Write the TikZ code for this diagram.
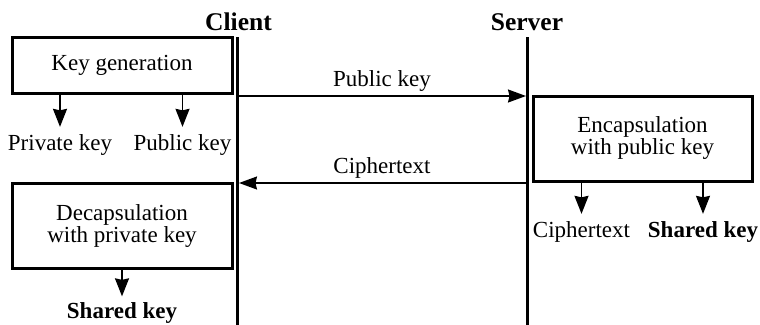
\documentclass[tikz,border=0pt]{standalone}
\usepackage{fontspec}
\setmainfont{Liberation Serif}
\usetikzlibrary{arrows.meta}

\tikzset{
  head/.style={font=\bfseries\fontsize{25.5}{26}\selectfont, anchor=base, inner sep=0pt},
  lbl/.style={font=\fontsize{23}{22}\selectfont, anchor=base, inner sep=0pt},
  boldlbl/.style={font=\bfseries\fontsize{23}{22}\selectfont, anchor=base, inner sep=0pt},
  procbox/.style={draw, line width=3pt, inner sep=0pt, align=center,
    font=\fontsize{23}{22}\selectfont},
  lifeline/.style={line width=3pt},
  msg/.style={line width=1.5pt, -{Stealth[length=18pt,width=13pt,inset=1.5pt]}},
  outarrow/.style={line width=1.6pt, -{Stealth[length=18pt,width=14pt,inset=1.5pt]}},
}

\begin{document}
\begin{tikzpicture}[x=1pt,y=-1pt]
  \useasboundingbox (0,0) rectangle (760,324);
  \clip (0,0) rectangle (760,324);

  % party headers and lifelines
  \node[head] (client) at (238.5,30) {Client};
  \node[head] (server) at (527,30) {Server};
  \coordinate (ctop) at (237.5,37);
  \coordinate (cbot) at (237.5,330);
  \coordinate (stop) at (527.5,37);
  \coordinate (sbot) at (527.5,330);
  \draw[lifeline] (ctop) -- (cbot);
  \draw[lifeline] (stop) -- (sbot);

  % client: key generation
  \node[procbox, minimum width=220pt, minimum height=56pt] (kg) at (122,65) {Key generation};
  \node[lbl] (privk) at (60,150) {Private key};
  \node[lbl] (pubk) at (182.5,150) {Public key};
  \draw[outarrow] (kg.south -| privk) -- ([yshift=7pt]privk.north);
  \draw[outarrow] (kg.south -| pubk) -- ([yshift=7pt]pubk.north);

  % public key sent to the server
  \coordinate (m1a) at (239,96);
  \coordinate (m1b) at (526,96);
  \draw[msg] (m1a) -- (m1b);
  \node[lbl] (m1lbl) at (382,86) {Public key};

  % server: encapsulation
  \node[procbox, minimum width=219pt, minimum height=85pt] (enc) at (642.5,138.5)
    {Encapsulation\\with public key};
  \node[lbl] (ct) at (581.5,237) {Ciphertext};
  \node[boldlbl] (sks) at (703,237) {Shared key};
  \draw[outarrow] (enc.south -| ct) -- ([yshift=7pt]ct.north);
  \draw[outarrow] (enc.south -| sks) -- ([yshift=7pt]sks.north);

  % ciphertext sent back to the client
  \coordinate (m2a) at (526,183);
  \coordinate (m2b) at (239,183);
  \draw[msg] (m2a) -- (m2b);
  \node[lbl] (m2lbl) at (382,173) {Ciphertext};

  % client: decapsulation
  \node[procbox, minimum width=220pt, minimum height=85pt] (dec) at (122,225.5)
    {Decapsulation\\with private key};
  \node[boldlbl] (skc) at (122,318.5) {Shared key};
  \draw[outarrow] (dec.south -| skc) -- ([yshift=6pt]skc.north);
\end{tikzpicture}
\end{document}
